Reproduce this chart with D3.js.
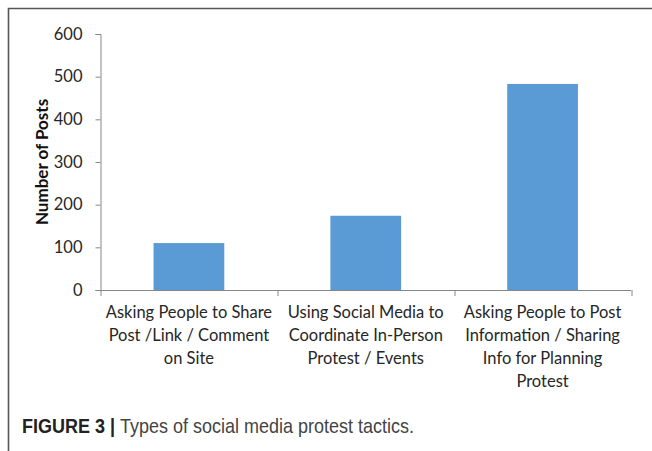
<!DOCTYPE html>
<html>
<head>
<meta charset="utf-8">
<script src="https://cdn.jsdelivr.net/npm/d3@7"></script>
<style>
  body { margin: 0; background: #fff; }
  svg { display: block; }
</style>
</head>
<body>
<div id="chart"></div>
<script>
// data
const categories = [
    ["Asking People to Share", "Post /Link / Comment", "on Site"],
    ["Using Social Media to", "Coordinate In-Person", "Protest / Events"],
    ["Asking People to Post", "Information / Sharing", "Info for Planning", "Protest"]
];
const posts = [110, 174, 483];
const yTicks = [0, 100, 200, 300, 400, 500, 600];

const W = 652, H = 451;
const margin = { top: 34, left: 100.5, right: 21, bottom: 161 };
const width = W - margin.left - margin.right,
      height = H - margin.top - margin.bottom;

const svg = d3.select("#chart")
    .append("svg")
    .attr("width", W)
    .attr("height", H);

// frame (top + left)
svg.append("path")
    .attr("d", `M8.5,${H} V8.5 H${W}`)
    .attr("fill", "none")
    .attr("stroke", "#555")
    .attr("stroke-width", 1.6);

const g = svg.append("g")
    .attr("transform", `translate(${margin.left},${margin.top})`);

const keys = categories.map((d, i) => i);

const x = d3.scaleBand()
    .domain(keys)
    .range([0, width])
    .paddingInner(0.6)
    .paddingOuter(0.3);

const y = d3.scaleLinear()
    .domain([0, 600])
    .range([height, 0]);

const font = "Lato, 'Open Sans', sans-serif";

// bars
g.selectAll(".bar")
    .data(posts)
    .enter()
    .append("rect")
    .attr("class", "bar")
    .attr("x", (d, i) => x(i))
    .attr("y", d => y(d))
    .attr("width", x.bandwidth())
    .attr("height", d => height - y(d))
    .attr("fill", "#5b9bd5");

// y axis
const yAxis = g.append("g")
    .call(d3.axisLeft(y).tickValues(yTicks).tickSize(5).tickPadding(13));
yAxis.select(".domain").attr("stroke", "#868686");
yAxis.selectAll(".tick line").attr("stroke", "#868686");
yAxis.selectAll("text")
    .style("font-family", font)
    .style("font-size", "16.5px")
    .attr("fill", "#262626");

// x axis: baseline + separators between categories
g.append("line")
    .attr("x1", 0).attr("x2", width)
    .attr("y1", height + 0.5).attr("y2", height + 0.5)
    .attr("stroke", "#868686");
g.selectAll(".sep")
    .data(d3.range(keys.length + 1))
    .enter()
    .append("line")
    .attr("class", "sep")
    .attr("x1", i => Math.round(i * width / keys.length) + 0.5)
    .attr("x2", i => Math.round(i * width / keys.length) + 0.5)
    .attr("y1", height)
    .attr("y2", height + 6)
    .attr("stroke", "#868686");

// category labels
const lab = g.selectAll(".cat")
    .data(categories)
    .enter()
    .append("text")
    .attr("class", "cat")
    .attr("x", (d, i) => x(i) + x.bandwidth() / 2)
    .attr("y", height + 28)
    .attr("text-anchor", "middle")
    .style("font-family", font)
    .style("font-size", "16.5px")
    .attr("fill", "#262626");
lab.selectAll("tspan")
    .data(d => d)
    .enter()
    .append("tspan")
    .attr("x", function() { return this.parentNode.getAttribute("x"); })
    .attr("dy", (d, i) => i === 0 ? 0 : 23)
    .text(d => d);

// y title
svg.append("text")
    .attr("transform", `translate(48,162) rotate(-90)`)
    .attr("text-anchor", "middle")
    .style("font-family", font)
    .style("font-size", "17px")
    .style("font-weight", "bold")
    .attr("fill", "#111")
    .text("Number of Posts");

// caption (condensed look)
const cap = svg.append("text")
    .attr("transform", "translate(22,433) scale(0.9,1)")
    .style("font-family", "'Liberation Sans', Arial, sans-serif")
    .style("font-size", "20px")
    .attr("fill", "#444");
cap.append("tspan").style("font-weight", "bold").attr("fill", "#222").text("FIGURE 3 | ");
cap.append("tspan").text("Types of social media protest tactics.");
</script>
</body>
</html>
